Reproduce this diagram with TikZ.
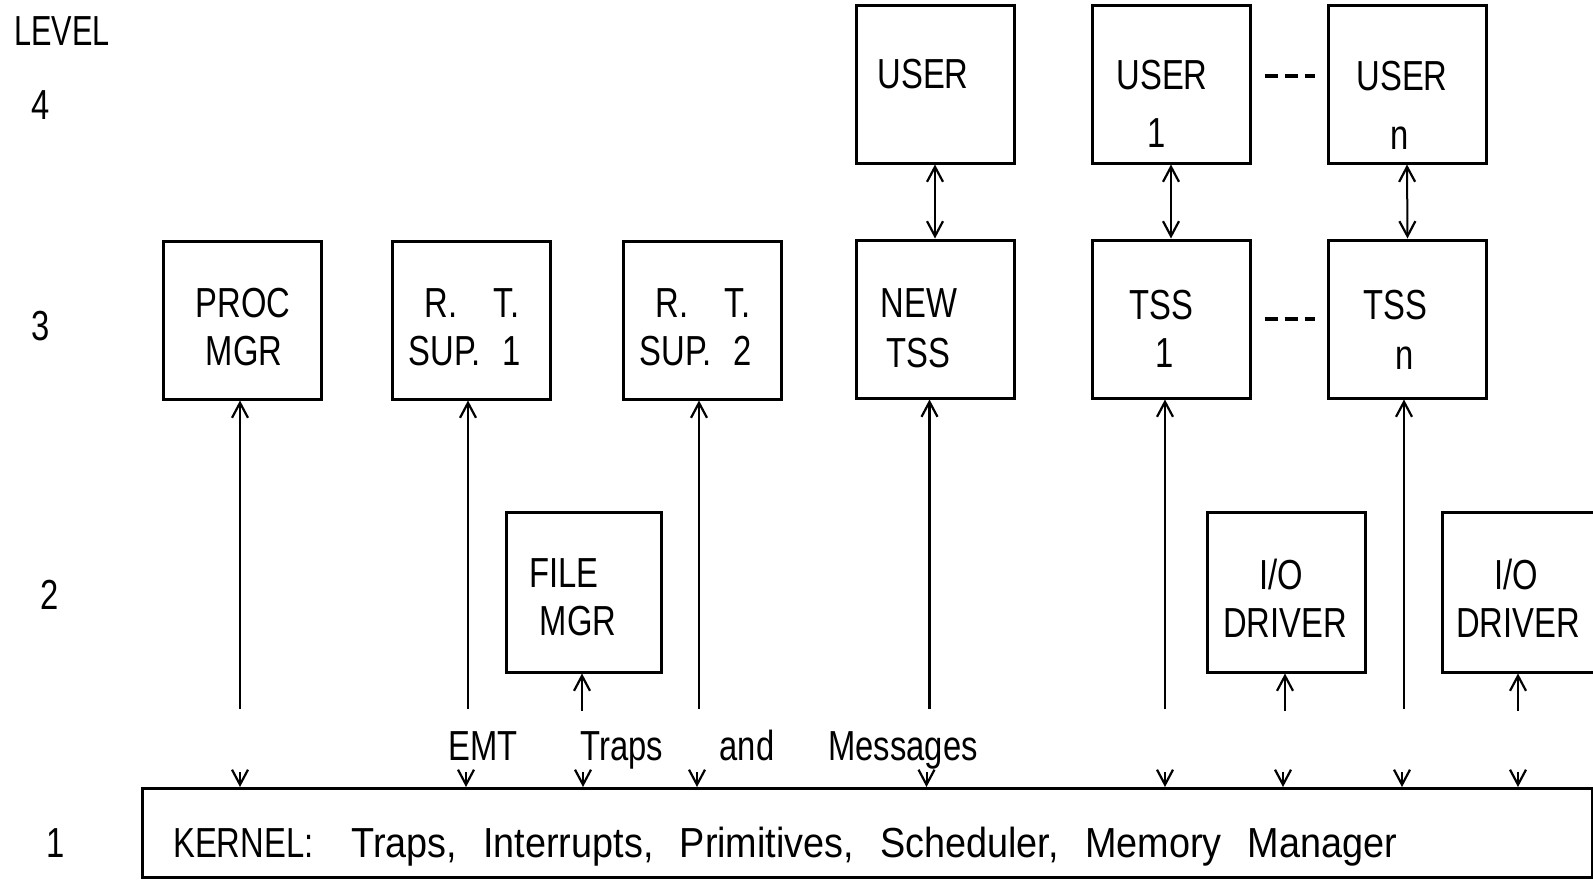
\documentclass[tikz,border=0pt]{standalone}
\usepackage{fontspec}
\setmainfont{Liberation Sans}
\newfontfamily\bfnt{Liberation Sans}[FakeStretch=0.78]
\newfontfamily\lfnt{Liberation Sans}[FakeStretch=0.73]
\newfontfamily\kfnt{Liberation Sans}[FakeStretch=0.9,WordSpace=2.5]
\usetikzlibrary{arrows.meta}
\begin{document}
\begin{tikzpicture}[x=1pt,y=-1pt,
  box/.style={draw, line width=3pt, minimum width=158pt, minimum height=158pt, inner sep=0pt},
  txt/.style={font=\bfnt\fontsize{42}{49}\selectfont, inner sep=0pt, text height=30pt, text depth=0pt},
  ktxt/.style={font=\kfnt\fontsize{42}{49}\selectfont, inner sep=0pt, text height=30pt, text depth=0pt},
  tip/.tip={Straight Barb[length=15pt,width=16pt,line width=2.2pt]},
  up/.style={line width=2.8pt, -{tip}},
  dbl/.style={line width=2pt, {tip}-{tip}},
  stub/.style={line width=2pt, -{tip}},
  dots/.style={line width=4pt, dash pattern=on 13pt off 7pt, shorten <=13pt, shorten >=12pt}
]
\useasboundingbox (0,0) rectangle (1593,886);
% level labels
\node[txt, font=\lfnt\fontsize{42}{49}\selectfont, anchor=west] (lev) at (14,30) {LEVEL};
\node[txt] (l4) at (41,104) {4};
\node[txt] (l3) at (41,325) {3};
\node[txt] (l2) at (50,594) {2};
\node[txt] (l1) at (56,842) {1};
% level 4
\node[box] (user) at (935,84) {};
\node[box] (user1) at (1171,84) {};
\node[box] (usern) at (1407,84) {};
\node[txt] (userA) at (923,73) {USER};
\node[txt] (user1A) at (1162,74) {USER};
\node[txt] (user1B) at (1157,132) {1};
\node[txt] (usernA) at (1402,75) {USER};
\node[txt] (usernB) at (1400,134) {n};
% level 3
\node[box] (proc) at (242,320) {};
\node[box] (rt1) at (471,320) {};
\node[box] (rt2) at (702.5,320) {};
\node[box] (ntss) at (935,319) {};
\node[box] (tss1) at (1171,319) {};
\node[box] (tssn) at (1407.5,319) {};
\node[txt] (procA) at (243,302) {PROC};
\node[txt] (procB) at (244,350.5) {MGR};
\node[txt] (rt1A) at (472,302) {R.\hspace{36pt}T.};
\node[txt] (rt1B) at (465,350.5) {SUP.\hspace{22pt}1};
\node[txt] (rt2A) at (703,302) {R.\hspace{36pt}T.};
\node[txt] (rt2B) at (696,350.5) {SUP.\hspace{22pt}2};
\node[txt] (ntssA) at (919,302) {NEW};
\node[txt] (ntssB) at (918,352) {TSS};
\node[txt] (tss1A) at (1161,304) {TSS};
\node[txt] (tss1B) at (1165,352) {1};
\node[txt] (tssnA) at (1395,304) {TSS};
\node[txt] (tssnB) at (1405,354) {n};
% level 2
\node[box, minimum width=155pt, minimum height=160pt] (file) at (583.5,592) {};
\node[box, minimum height=160pt] (io1) at (1286.6,592) {};
\node[box, minimum height=160pt] (io2) at (1521,592) {};
\node[txt] (fileA) at (564,572) {FILE};
\node[txt] (fileB) at (578,620) {MGR};
\node[txt] (io1A) at (1281,574) {I/O};
\node[txt] (io1B) at (1285,622) {DRIVER};
\node[txt] (io2A) at (1516,574) {I/O};
\node[txt] (io2B) at (1518,622) {DRIVER};
% kernel
\node[draw, line width=3pt, minimum width=1450pt, minimum height=89pt, inner sep=0pt] (kernel) at (867,833) {};
\node[ktxt, anchor=west] (ktext) at (173,842) {{\bfnt KERNEL:}\hspace{38pt}Traps, Interrupts, Primitives, Scheduler, Memory Manager};
% middle labels
\node[txt] (emt) at (483,745) {EMT};
\node[txt] (traps) at (622,745) {Traps};
\node[txt] (and) at (747,745) {and};
\node[txt] (msgs) at (903,745) {Messages};
% dashes
\draw[dots] ([yshift=8pt]user1.east) -- ([yshift=8pt]usern.west);
\draw[dots] (tss1.east) -- (tssn.west);
% double arrows level 4-3
\draw[dbl] (user.south) -- (ntss.north);
\draw[dbl] (user1.south) -- (tss1.north);
\draw[dbl] (usern.south) -- (tssn.north);
% vertical up connectors
\coordinate (pProc) at (240,709);
\coordinate (pRt1) at (468,709);
\coordinate (pRt2) at (699,709);
\coordinate (pNew) at (929.5,709);
\coordinate (pT1) at (1165,709);
\coordinate (pTn) at (1404,709);
\coordinate (pFile) at (582,711);
\coordinate (pIo1) at (1285,711);
\coordinate (pIo2) at (1518,711);
\draw[up] (pProc) -- (pProc |- proc.south);
\draw[up] (pRt1) -- (pRt1 |- rt1.south);
\draw[up] (pRt2) -- (pRt2 |- rt2.south);
\draw[up] (pNew) -- (pNew |- ntss.south);
\draw[up] (pT1) -- (pT1 |- tss1.south);
\draw[up] (pTn) -- (pTn |- tssn.south);
\draw[stub] (pFile) -- (pFile |- file.south);
\draw[stub] (pIo1) -- (pIo1 |- io1.south);
\draw[stub] (pIo2) -- (pIo2 |- io2.south);
% down stubs onto kernel
\foreach \x/\n in {240/a,466/b,583/c,697/d,926.5/e,1165/f,1283/g,1402/h,1518/i}{
  \coordinate (k\n) at (\x,772);
  \draw[stub] (k\n) -- (k\n |- kernel.north);
}
\end{tikzpicture}
\end{document}
